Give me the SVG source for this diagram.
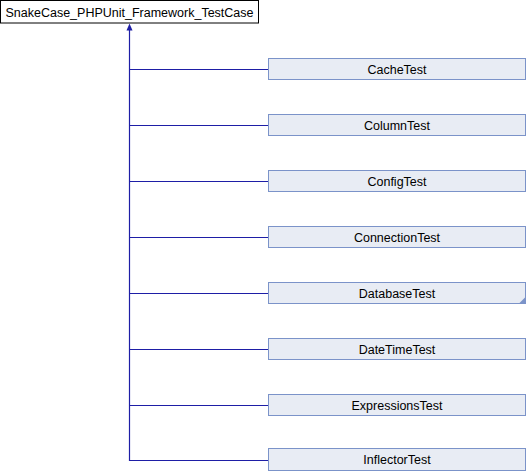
<svg xmlns="http://www.w3.org/2000/svg" width="526" height="472" viewBox="0 0 526 472">
<style>
text{font-family:"Liberation Sans",Arial,sans-serif;font-size:12.5px;fill:#000;text-anchor:middle}
.base{fill:#fff;stroke:#000;stroke-width:1}
.child{fill:#e8ecf4;stroke:#7b93c9;stroke-width:1}
.edge{fill:none;stroke:#1e1ea6;stroke-width:1.2}
</style>
<rect width="526" height="472" fill="#fff"/>
<g id="connectors">
<path class="edge" d="M129.5,461 V28"/>
<path d="M129.5,23.5 L132.5,30.5 L126.5,30.5 Z" fill="#1e1ea6"/>
<path class="edge" d="M129.5,69.5 H268"/>
<path class="edge" d="M129.5,125.5 H268"/>
<path class="edge" d="M129.5,181.5 H268"/>
<path class="edge" d="M129.5,237.5 H268"/>
<path class="edge" d="M129.5,293.5 H268"/>
<path class="edge" d="M129.5,349.5 H268"/>
<path class="edge" d="M129.5,405.5 H268"/>
<path class="edge" d="M129.5,460.5 H268"/>
</g>
<g id="n0"><rect class="base" x="0.5" y="0.5" width="258" height="22.5"/><text x="129.5" y="16.5">SnakeCase_PHPUnit_Framework_TestCase</text></g>
<g id="n1"><rect class="child" x="268.5" y="58.5" width="257" height="21"/><text x="397" y="73.5">CacheTest</text></g>
<g id="n2"><rect class="child" x="268.5" y="114.5" width="257" height="21"/><text x="397" y="129.5">ColumnTest</text></g>
<g id="n3"><rect class="child" x="268.5" y="170.5" width="257" height="21"/><text x="397" y="185.5">ConfigTest</text></g>
<g id="n4"><rect class="child" x="268.5" y="226.5" width="257" height="21"/><text x="397" y="241.5">ConnectionTest</text></g>
<g id="n5"><rect class="child" x="268.5" y="282.5" width="257" height="21"/><text x="397" y="297.5">DatabaseTest</text><path d="M525,297.5 V303 H519.5 Z" fill="#7b93c9"/></g>
<g id="n6"><rect class="child" x="268.5" y="338.5" width="257" height="21"/><text x="397" y="353.5">DateTimeTest</text></g>
<g id="n7"><rect class="child" x="268.5" y="394.5" width="257" height="21"/><text x="397" y="409.5">ExpressionsTest</text></g>
<g id="n8"><rect class="child" x="268.5" y="448.5" width="257" height="22"/><text x="397" y="464">InflectorTest</text></g>
</svg>
